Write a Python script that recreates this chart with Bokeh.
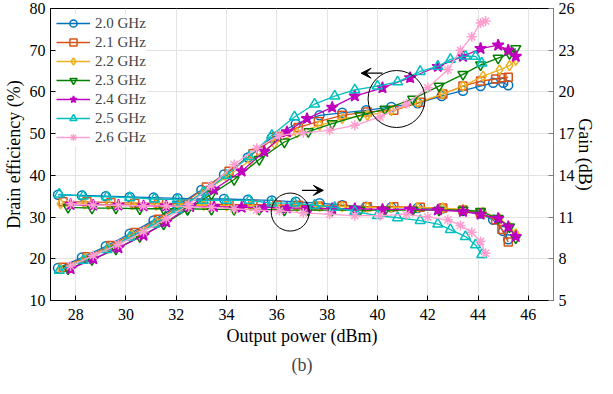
from bokeh.plotting import figure
from bokeh.models import (Range1d, LinearAxis, FixedTicker, Arrow, VeeHead, Title)
from bokeh.embed import file_html
from bokeh.resources import INLINE

# ---------------- data ----------------
labels = ["2.0 GHz", "2.1 GHz", "2.2 GHz", "2.3 GHz", "2.4 GHz", "2.5 GHz", "2.6 GHz"]

pout_20 = [27.3, 28.25, 29.2, 30.15, 31.1, 32.05, 33.0, 33.9, 34.85, 35.8, 36.75, 37.7, 38.6, 39.55, 40.55, 41.6, 42.55, 43.4, 44.1, 44.6, 45.0, 45.2]
eff_20 = [17.8, 20.3, 23.0, 26.0, 29.2, 32.8, 36.5, 40.2, 44.3, 49.0, 52.3, 54.4, 55.0, 55.6, 56.4, 57.3, 59.0, 60.3, 61.4, 62.2, 62.2, 61.6]
gain_20 = [12.6, 12.55, 12.5, 12.45, 12.4, 12.35, 12.3, 12.3, 12.25, 12.2, 12.1, 12.0, 11.85, 11.75, 11.7, 11.65, 11.6, 11.45, 11.25, 10.8, 10.0, 9.4]

pout_21 = [27.5, 28.45, 29.4, 30.35, 31.3, 32.25, 33.2, 34.1, 35.05, 36.0, 36.85, 37.65, 38.6, 39.6, 40.65, 41.7, 42.6, 43.4, 44.1, 44.7, 44.95, 45.2]
eff_21 = [18.0, 20.5, 23.2, 26.3, 29.5, 33.2, 37.2, 41.0, 45.2, 49.3, 51.5, 52.9, 54.4, 55.2, 55.6, 57.5, 59.5, 61.4, 62.6, 63.1, 63.4, 63.5]
gain_21 = [12.1, 12.1, 12.05, 12.0, 12.0, 11.95, 11.95, 11.9, 11.9, 11.85, 11.85, 11.8, 11.8, 11.75, 11.75, 11.7, 11.65, 11.5, 11.3, 10.8, 10.1, 9.2]

pout_22 = [27.4, 28.35, 29.3, 30.25, 31.2, 32.15, 33.1, 34.0, 34.95, 35.9, 36.8, 37.7, 38.6, 39.6, 40.55, 41.6, 42.6, 43.4, 44.2, 44.85, 45.25, 45.5]
eff_22 = [17.6, 20.0, 22.6, 25.6, 28.8, 32.3, 36.0, 39.6, 43.6, 47.6, 50.2, 52.0, 53.6, 54.4, 55.5, 57.5, 59.5, 61.4, 63.8, 65.3, 66.3, 67.6]
gain_22 = [11.95, 11.95, 11.9, 11.9, 11.85, 11.85, 11.85, 11.8, 11.8, 11.8, 11.75, 11.75, 11.75, 11.7, 11.7, 11.7, 11.65, 11.55, 11.35, 10.9, 10.3, 9.8]

pout_23 = [27.7, 28.65, 29.6, 30.55, 31.5, 32.45, 33.4, 34.3, 35.3, 36.3, 37.25, 38.2, 39.3, 40.3, 41.4, 42.45, 43.4, 44.1, 44.8, 45.25, 45.5]
eff_23 = [17.6, 19.8, 22.3, 25.3, 28.3, 31.8, 35.5, 39.0, 43.8, 48.0, 50.5, 52.4, 54.4, 55.9, 58.3, 61.4, 64.2, 66.5, 68.1, 69.2, 70.4]
gain_23 = [11.7, 11.65, 11.65, 11.6, 11.6, 11.6, 11.55, 11.55, 11.55, 11.5, 11.5, 11.5, 11.5, 11.5, 11.5, 11.5, 11.5, 11.4, 10.9, 10.3, 9.5]

pout_24 = [27.8, 28.7, 29.7, 30.7, 31.6, 32.55, 33.5, 34.6, 35.5, 36.4, 37.2, 38.2, 39.1, 40.2, 41.3, 42.4, 43.4, 44.1, 44.8, 45.2, 45.5]
eff_24 = [17.6, 20.0, 22.6, 25.6, 28.8, 32.6, 36.6, 41.0, 45.7, 50.4, 53.6, 56.3, 59.0, 61.0, 63.4, 66.1, 68.5, 70.4, 71.2, 70.0, 68.5]
gain_24 = [11.9, 11.85, 11.85, 11.8, 11.8, 11.75, 11.75, 11.7, 11.7, 11.65, 11.65, 11.6, 11.6, 11.55, 11.55, 11.5, 11.4, 11.2, 10.9, 10.3, 9.6]

pout_25 = [27.35, 28.3, 29.24, 30.15, 31.13, 32.04, 33.08, 34.0, 34.9, 35.8, 36.7, 37.5, 38.3, 39.1, 40.0, 40.8, 41.7, 42.4, 42.9, 43.5, 43.9, 44.15]
eff_25 = [17.2, 19.6, 22.2, 25.2, 28.3, 31.8, 36.0, 40.0, 44.5, 49.6, 54.0, 57.1, 59.0, 60.5, 61.4, 62.4, 64.9, 66.1, 67.8, 68.6, 68.5, 66.9]
gain_25 = [12.65, 12.5, 12.45, 12.4, 12.3, 12.25, 12.2, 12.2, 12.2, 12.0, 12.0, 11.85, 11.7, 11.4, 11.1, 10.95, 10.75, 10.5, 10.1, 9.6, 9.0, 8.3]

pout_26 = [27.8, 28.7, 29.7, 30.7, 31.6, 32.5, 33.4, 34.3, 35.2, 36.1, 37.05, 38.1, 39.1, 40.1, 41.15, 42.0, 42.8, 43.3, 43.75, 44.1, 44.3]
eff_26 = [18.3, 20.8, 23.4, 26.5, 29.6, 33.0, 37.5, 42.6, 46.5, 49.6, 50.2, 50.8, 52.0, 54.0, 57.1, 61.0, 65.3, 70.0, 73.2, 76.5, 77.0]
gain_26 = [11.95, 11.85, 11.85, 11.8, 11.8, 11.75, 11.7, 11.6, 11.5, 11.45, 11.3, 11.2, 11.1, 11.1, 11.2, 11.0, 10.8, 10.4, 9.9, 9.25, 8.4]

pouts = [pout_20, pout_21, pout_22, pout_23, pout_24, pout_25, pout_26]
effs = [eff_20, eff_21, eff_22, eff_23, eff_24, eff_25, eff_26]
gains = [gain_20, gain_21, gain_22, gain_23, gain_24, gain_25, gain_26]

x_ticks = [28, 30, 32, 34, 36, 38, 40, 42, 44, 46]
eff_ticks = [10, 20, 30, 40, 50, 60, 70, 80]
gain_ticks = [5, 8, 11, 14, 17, 20, 23, 26]

# annotation anchors (data units)
eff_circle = (40.76, 58.3)
gain_circle = (36.53, 31.2)
eff_arrow = (40.2, 39.35, 64.5)   # x_start, x_end, y
gain_arrow = (37.0, 37.85, 36.4)

# ---------------- styling ----------------
colors = ["#0072BD", "#D95319", "#EDB120", "#008000", "#BF00BF", "#00BFBF", "#FF9FCF"]
markers = ["circle", "square", "diamond", "inverted_triangle", "star", "triangle", "asterisk"]
sizes = [9, 8, 10, 10, 12, 10, 10]
filled = [False, False, False, False, True, False, False]
FONT = "Liberation Serif"

p = figure(width=597, height=378, x_range=Range1d(27, 47), y_range=Range1d(10, 80),
           output_backend="svg", toolbar_location=None,
           min_border_left=48, min_border_right=0, min_border_top=8, min_border_bottom=0)
p.extra_y_ranges = {"gain": Range1d(5, 26)}

p.outline_line_color = "black"
p.outline_line_width = 1
p.background_fill_color = "white"
p.grid.grid_line_color = "#e3e3e3"
p.grid.grid_line_width = 1
p.xgrid.ticker = FixedTicker(ticks=x_ticks)
p.ygrid.ticker = FixedTicker(ticks=eff_ticks)

p.xaxis.ticker = FixedTicker(ticks=x_ticks)
p.yaxis.ticker = FixedTicker(ticks=eff_ticks)
p.xaxis.axis_label = "Output power (dBm)"
p.yaxis.axis_label = "Drain efficiency (%)"

right = LinearAxis(y_range_name="gain", ticker=FixedTicker(ticks=gain_ticks), axis_label="Gain (dB)")
p.add_layout(right, "right")

for ax in [p.xaxis[0], p.yaxis[0], right]:
    ax.major_tick_in = 5
    ax.major_tick_out = 0
    ax.minor_tick_in = 0
    ax.minor_tick_out = 0
    ax.major_label_text_font = FONT
    ax.major_label_text_font_size = "16px"
    ax.major_label_text_color = "black"
    ax.axis_label_text_font = FONT
    ax.axis_label_text_font_size = "18px"
    ax.axis_label_text_font_style = "normal"
    ax.axis_label_text_color = "black"
    ax.axis_line_color = "black"
    ax.major_tick_line_color = "black"
    ax.axis_label_standoff = 3
right.axis_line_color = "#808080"
right.major_tick_line_color = "#808080"
right.major_label_standoff = 3
right.axis_label_standoff = -3
p.xaxis.major_label_standoff = 8
p.yaxis.major_label_standoff = 5

for i in range(len(labels)):
    c = colors[i]
    fc = c if filled[i] else None
    # efficiency (left axis)
    p.line(pouts[i], effs[i], line_color=c, line_width=1.3, legend_label=labels[i])
    p.scatter(pouts[i], effs[i], marker=markers[i], size=sizes[i], line_color=c,
              fill_color=fc, line_width=1.5, legend_label=labels[i])
    # gain (right axis)
    p.line(pouts[i], gains[i], line_color=c, line_width=1.3, y_range_name="gain")
    p.scatter(pouts[i], gains[i], marker=markers[i], size=sizes[i], line_color=c,
              fill_color=fc, line_width=1.5, y_range_name="gain")

# annotations
p.scatter([eff_circle[0]], [eff_circle[1]], marker="circle", size=57, fill_color=None,
          line_color="black", line_width=1)
p.scatter([gain_circle[0]], [gain_circle[1]], marker="circle", size=38, fill_color=None,
          line_color="black", line_width=1)
p.add_layout(Arrow(end=VeeHead(size=10, fill_color="black", line_color="black"),
                   x_start=eff_arrow[0], x_end=eff_arrow[1], y_start=eff_arrow[2], y_end=eff_arrow[2],
                   line_color="black", line_width=1.2))
p.add_layout(Arrow(end=VeeHead(size=10, fill_color="black", line_color="black"),
                   x_start=gain_arrow[0], x_end=gain_arrow[1], y_start=gain_arrow[2], y_end=gain_arrow[2],
                   line_color="black", line_width=1.2))

leg = p.legend[0]
leg.location = "top_left"
leg.label_text_font = FONT
leg.label_text_font_size = "15px"
leg.background_fill_color = "white"
leg.background_fill_alpha = 1.0
leg.border_line_color = None
leg.glyph_width = 34
leg.glyph_height = 18
leg.label_height = 18
leg.spacing = 1
leg.padding = 4
leg.margin = 6
leg.label_standoff = 5

cap = Title(text="(b)", align="center", text_font=FONT, text_font_size="18px",
            text_font_style="normal", offset=0, standoff=8)
p.add_layout(cap, "below")

open("out.html", "w").write(file_html(p, INLINE))
